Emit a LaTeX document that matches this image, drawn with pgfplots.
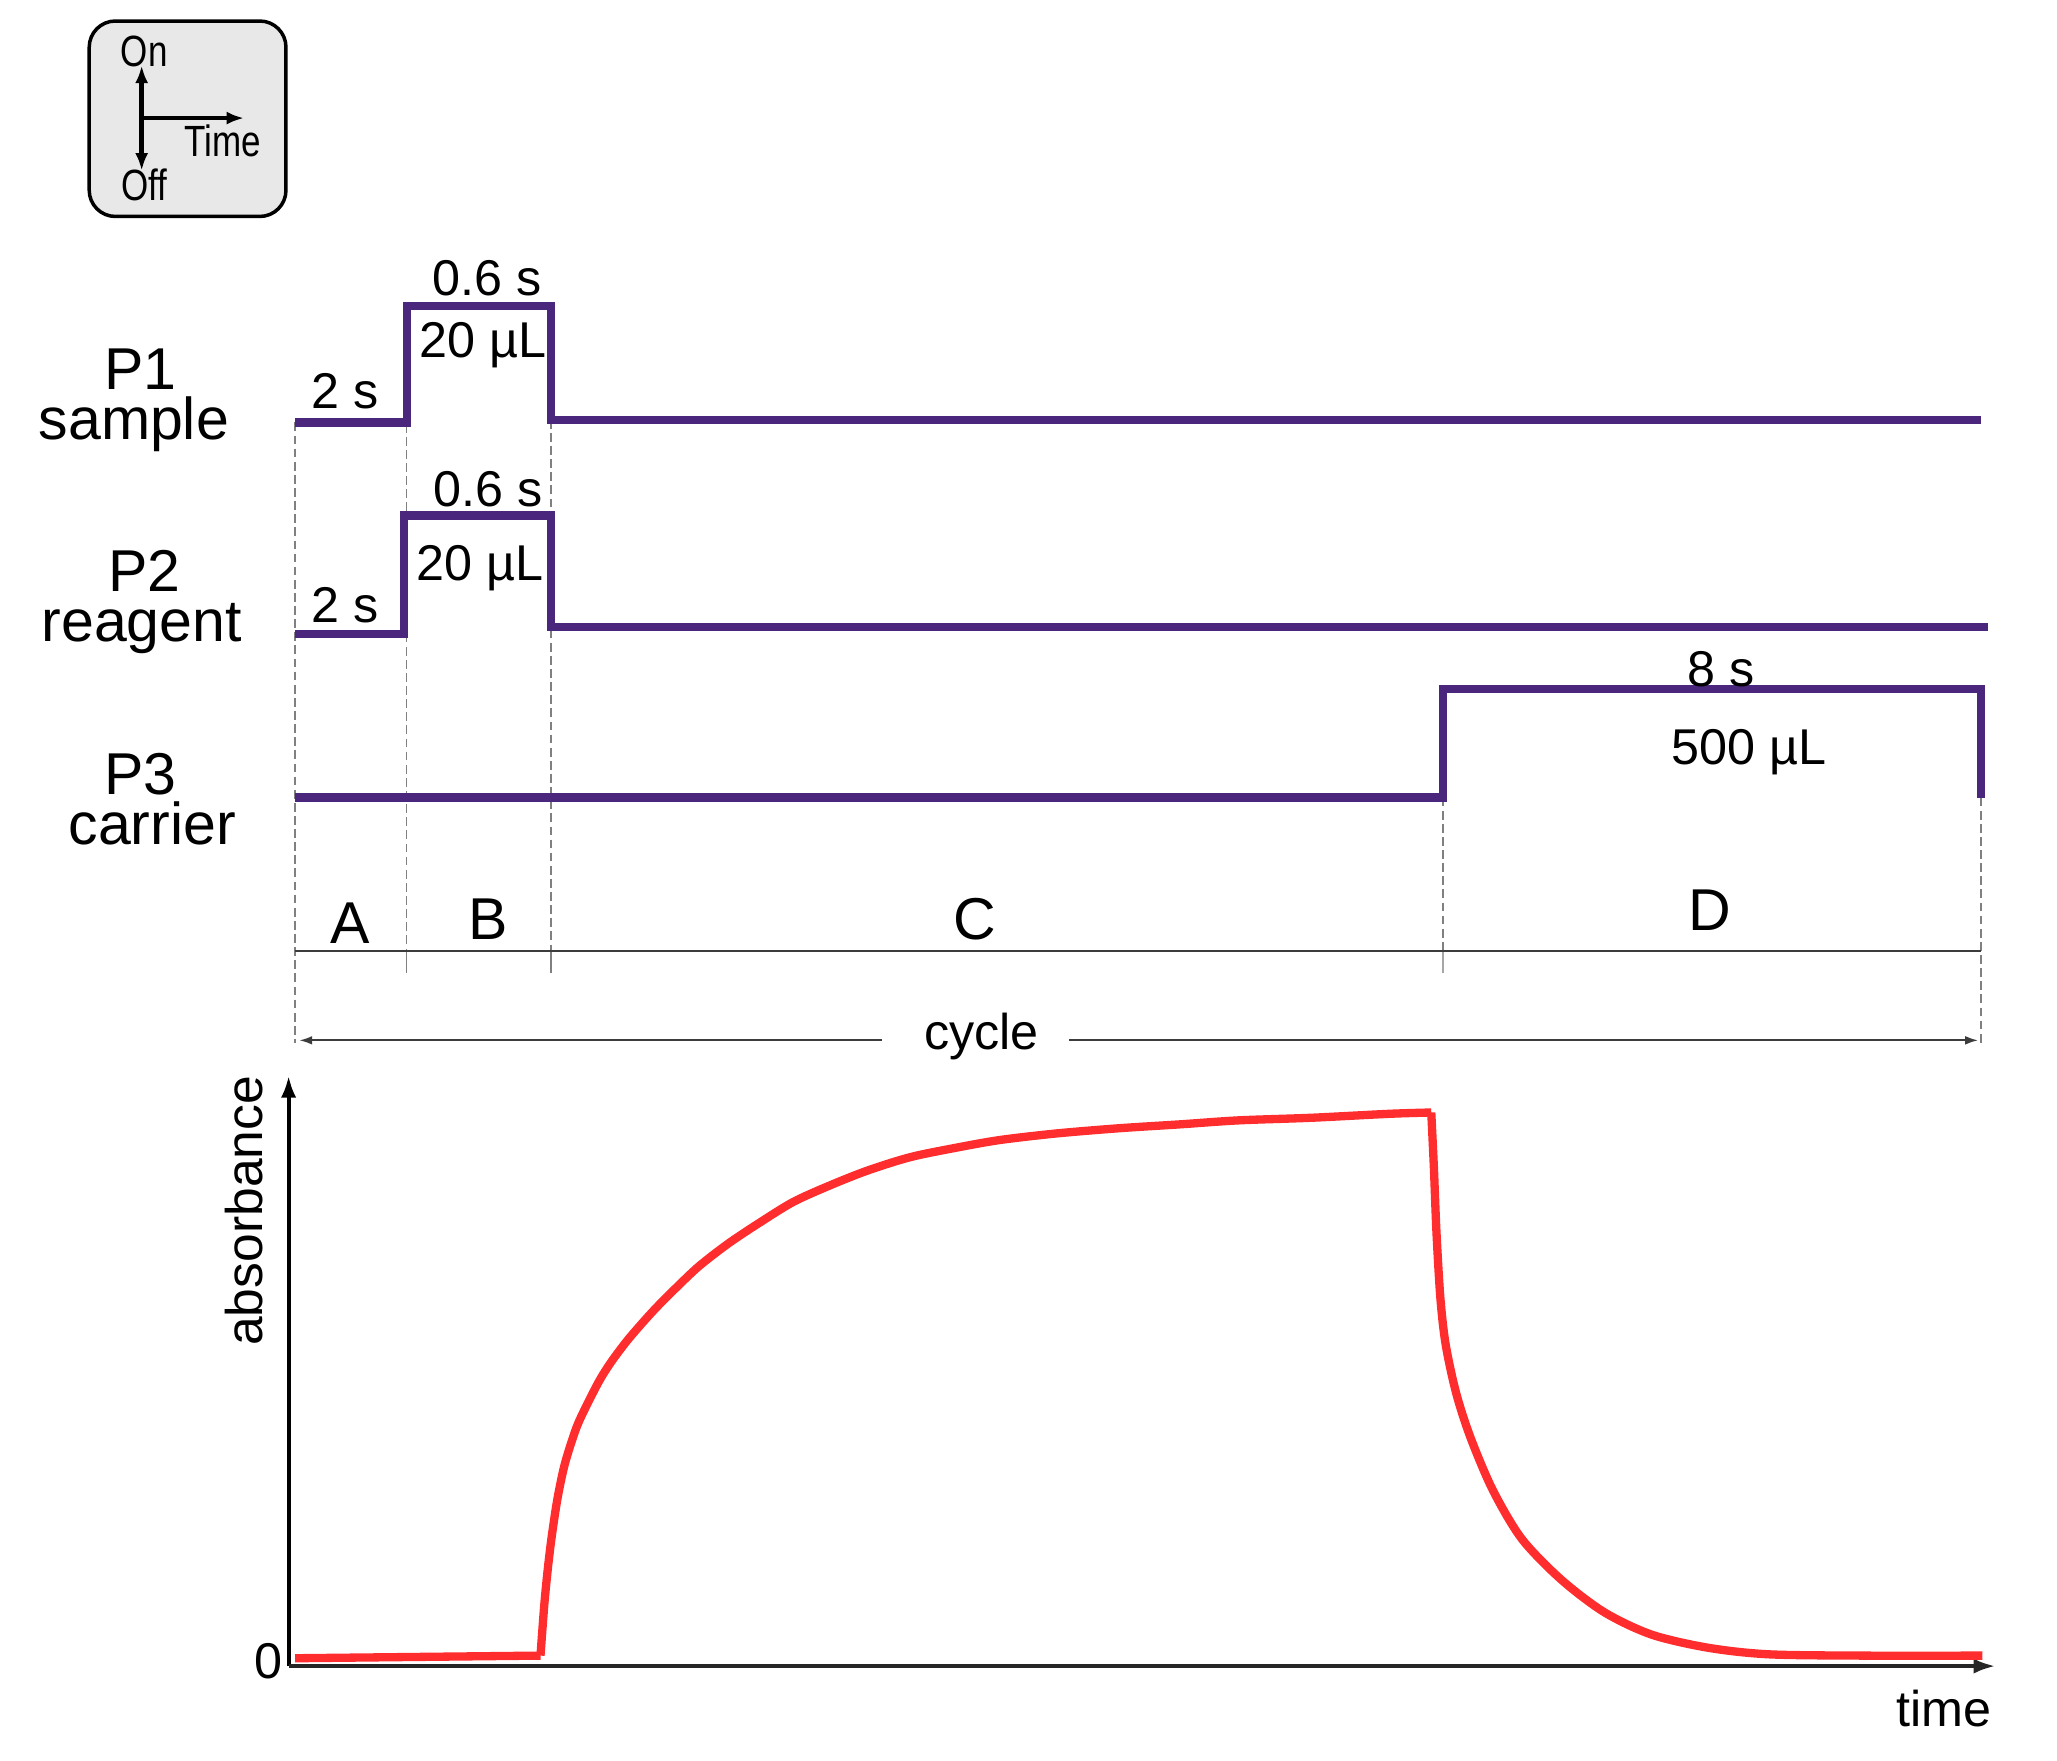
\documentclass[border=0pt]{standalone}
\usepackage{fontspec}
\setmainfont{Liberation Sans}
\usepackage{pgfplots}
\pgfplotsset{compat=1.18}
\usetikzlibrary{arrows.meta}
\definecolor{pump}{RGB}{75,38,125}
\definecolor{curve}{RGB}{255,45,45}
\definecolor{dgray}{RGB}{60,60,60}

\pgfplotstableread{
x y
225 322
310 322
310 233
420 233
420 320
1510 320
}\pone
\pgfplotstableread{
x y
225 483
308 483
308 393
420 393
420 478
1515 478
}\ptwo
\pgfplotstableread{
x y
225 608
1100 608
1100 525
1510 525
1510 608
}\pthree
\pgfplotstableread{
x y
225 1264
412 1262
}\absbase
\pgfplotstableread{
x y
412 1262
415 1222
418 1192
421 1168
425 1142
430 1118
436 1098
442 1082
456 1054
466 1038
478 1022
490 1008
501 996
516 981
533 965
555 948
579 932
605 916
634 903
662 892
694 882
728 875
762 869
805 864
853 860
900 857
944 854
1000 852
1059 849
1091 848
}\absrise
\pgfplotstableread{
x y
1091 848
1093 890
1095 940
1098 990
1102 1025
1110 1062
1121 1096
1138 1136
1160 1173
1190 1204
1223 1229
1259 1246
1302 1256
1348 1261
1420 1262
1511 1262
}\absfall

\begin{document}
\begin{tikzpicture}
\begin{axis}[
  scale only axis, width=470.4pt, height=402.6pt,
  xmin=0, xmax=1568, ymin=0, ymax=1342, y dir=reverse,
  hide axis, clip=false]
\addplot[draw=none] coordinates {(0,0) (1568,1342)};

% legend box
\draw[line width=0.8pt, fill=gray!18, rounded corners=6pt]
  (axis cs:68,16) rectangle (axis cs:218,165);
\draw[line width=1pt, {Latex[length=4pt,width=3pt]}-{Latex[length=4pt,width=3pt]}]
  (axis cs:108,50) -- (axis cs:108,130);
\draw[line width=1pt, -{Latex[length=4pt,width=3pt]}]
  (axis cs:108,90) -- (axis cs:186,90);
\node[font=\fontsize{10}{11}\selectfont] at (axis cs:110,39) {\scalebox{0.8}[1]{On}};
\node[font=\fontsize{10}{11}\selectfont] at (axis cs:110,141) {\scalebox{0.8}[1]{Off}};
\node[font=\fontsize{10}{11}\selectfont] at (axis cs:170,107) {\scalebox{0.8}[1]{Time}};

% dashed guide lines
\draw[gray, line width=0.35pt, dash pattern=on 2pt off 1pt] (axis cs:225,322) -- (axis cs:225,795);
\draw[gray, line width=0.35pt, dash pattern=on 2pt off 1pt] (axis cs:310,233) -- (axis cs:310,725);
\draw[gray, line width=0.35pt, dash pattern=on 2pt off 1pt] (axis cs:420,320) -- (axis cs:420,725);
\draw[gray, line width=0.35pt, dash pattern=on 2pt off 1pt] (axis cs:1100,608) -- (axis cs:1100,725);
\draw[gray, line width=0.35pt, dash pattern=on 2pt off 1pt] (axis cs:1510,608) -- (axis cs:1510,795);
\draw[gray, line width=0.35pt] (axis cs:310,725) -- (axis cs:310,742);
\draw[gray, line width=0.35pt] (axis cs:420,725) -- (axis cs:420,742);
\draw[gray!70, line width=0.5pt] (axis cs:1100,725) -- (axis cs:1100,742);

% phase line
\draw[dgray, line width=0.6pt] (axis cs:225,725) -- (axis cs:1510,725);
\node[font=\fontsize{13.5}{15}\selectfont] at (axis cs:267,704) {A};
\node[font=\fontsize{13.5}{15}\selectfont] at (axis cs:372,701) {B};
\node[font=\fontsize{13.5}{15}\selectfont] at (axis cs:743,701) {C};
\node[font=\fontsize{13.5}{15}\selectfont] at (axis cs:1303,694) {D};

% cycle
\draw[dgray, line width=0.5pt, {Latex[length=3pt,width=2pt]}-] (axis cs:228,793) -- (axis cs:672,793);
\draw[dgray, line width=0.5pt, -{Latex[length=3pt,width=2pt]}] (axis cs:815,793) -- (axis cs:1508,793);
\node[font=\fontsize{11.5}{13}\selectfont] at (axis cs:748,790) {cycle};

% pump lines
\addplot[pump, line width=1.9pt] table[x=x,y=y] {\pone};
\addplot[pump, line width=1.9pt] table[x=x,y=y] {\ptwo};
\addplot[pump, line width=1.9pt] table[x=x,y=y] {\pthree};

% pump labels
\tikzset{plab/.style={font=\fontsize{13.5}{11.4}\selectfont, align=center, inner sep=0pt}}
\node[plab] at (axis cs:102,305) {\hspace*{3pt}P1\\sample};
\node[plab] at (axis cs:108,459) {\hspace*{1.2pt}P2\\reagent};
\node[plab] at (axis cs:116,609) {\hspace*{-5.4pt}P3\\carrier};

% annotations
\node[font=\fontsize{11.5}{13}\selectfont] at (axis cs:263,298) {2 s};
\node[font=\fontsize{11.5}{13}\selectfont] at (axis cs:263,461) {2 s};
\node[font=\fontsize{11.5}{13}\selectfont] at (axis cs:371,212) {0.6 s};
\node[font=\fontsize{11.5}{13}\selectfont] at (axis cs:372,373) {0.6 s};
\node[font=\fontsize{11.5}{13}\selectfont] at (axis cs:368,263) {20 µL};
\node[font=\fontsize{11.5}{13}\selectfont] at (axis cs:366,433) {20 µL};
\node[font=\fontsize{11.5}{13}\selectfont] at (axis cs:1312,510) {8 s};
\node[font=\fontsize{11.5}{13}\selectfont] at (axis cs:1333,573) {500 µL};

% absorbance axes
\draw[black, line width=0.9pt, -{Latex[length=5pt,width=3.5pt]}] (axis cs:220,1270) -- (axis cs:220,820);
\draw[black!85, line width=0.9pt, -{Latex[length=5pt,width=3.5pt]}] (axis cs:220,1270) -- (axis cs:1521,1270);
\node[font=\fontsize{11.5}{13}\selectfont] at (axis cs:205,1266) {0};
\node[font=\fontsize{11.8}{13}\selectfont, rotate=90] at (axis cs:186,923) {absorbance};
\node[font=\fontsize{11.5}{13}\selectfont] at (axis cs:1482,1302) {time};

\addplot[curve, line width=1.9pt, line join=round] table[x=x,y=y] {\absbase};
\addplot[curve, line width=1.9pt, line join=round, smooth, tension=0.5] table[x=x,y=y] {\absrise};
\addplot[curve, line width=1.9pt, line join=round, smooth, tension=0.5] table[x=x,y=y] {\absfall};
\end{axis}
\end{tikzpicture}
\end{document}
